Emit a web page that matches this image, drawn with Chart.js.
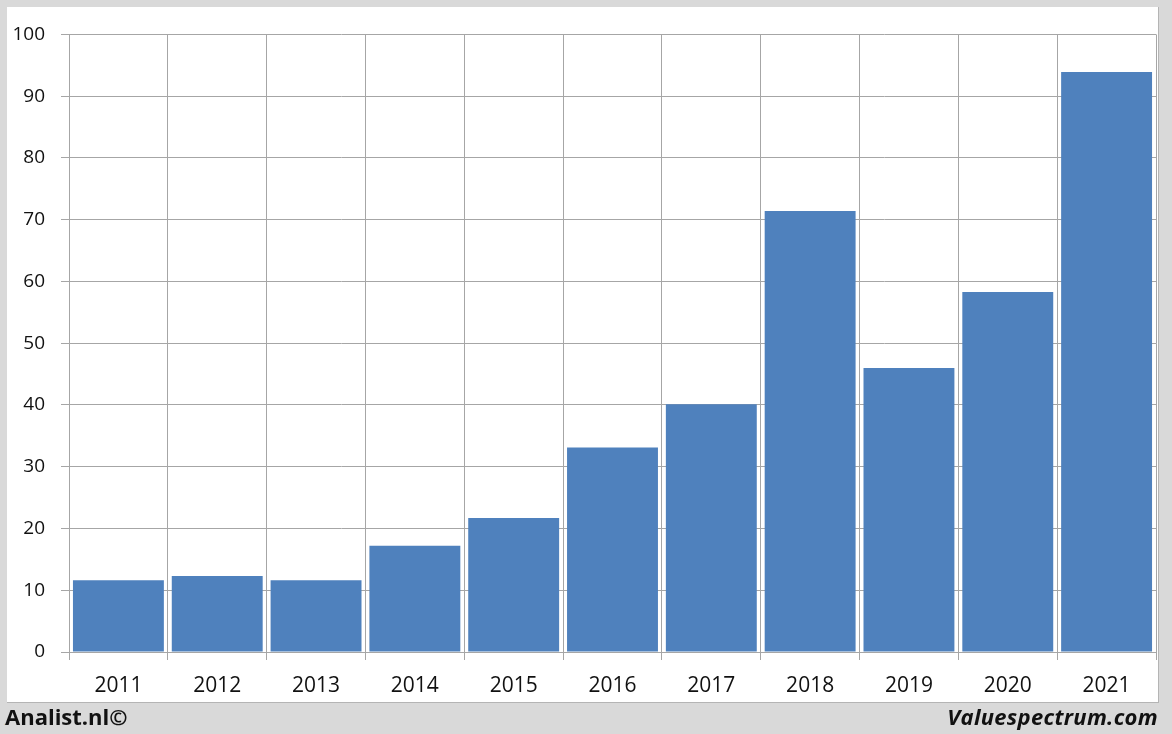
<!DOCTYPE html>
<html>
<head>
<meta charset="utf-8">
<script src="https://cdn.jsdelivr.net/npm/chart.js@4"></script>
<style>
    html, body { margin: 0; padding: 0; }
    body { width: 1172px; height: 734px; background: #d9d9d9; position: relative; overflow: hidden; font-family: "Open Sans", sans-serif; }
    .panel { position: absolute; left: 7px; top: 7px; width: 1151px; height: 695px; background: #fff; border-right: 1px solid #b4b4b4; border-bottom: 1px solid #b4b4b4; }
    .footer-left { position: absolute; left: 5px; top: 701px; font-size: 22px; line-height: 30px; font-weight: bold; color: #111; }
    .footer-right { position: absolute; right: 14px; top: 701px; font-size: 22px; line-height: 30px; font-weight: bold; font-style: italic; color: #111; letter-spacing: 0.3px; }
</style>
</head>
<body>
<div class="panel">
    <canvas id="barChart" width="1151" height="695"></canvas>
</div>
<div class="footer-left">Analist.nl©</div>
<div class="footer-right">Valuespectrum.com</div>

<script>
// chart data
const years = ['2011', '2012', '2013', '2014', '2015', '2016', '2017', '2018', '2019', '2020', '2021'];
const values = [11.6, 12.3, 11.6, 17.2, 21.7, 33.1, 40.1, 71.4, 46.0, 58.3, 93.9];
const yTicks = [0, 10, 20, 30, 40, 50, 60, 70, 80, 90, 100];

const gridColor = '#a6a6a6';

document.addEventListener('DOMContentLoaded', () => {
    const ctx = document.getElementById('barChart').getContext('2d');
    new Chart(ctx, {
        type: 'bar',
        data: {
            labels: years,
            datasets: [{
                data: values,
                backgroundColor: '#4f81bd',
                borderWidth: 0,
                barPercentage: 0.92,
                categoryPercentage: 1.0
            }]
        },
        options: {
            responsive: false,
            animation: false,
            layout: { padding: { top: 27, right: 2, left: 0, bottom: 0 } },
            plugins: { legend: { display: false }, tooltip: { enabled: false } },
            scales: {
                x: {
                    grid: { color: gridColor, lineWidth: 1, tickLength: 8, offset: true },
                    border: { color: gridColor },
                    ticks: { color: '#111', font: { family: 'Open Sans', size: 21 }, padding: 13, maxRotation: 0 },
                    afterFit: (scale) => { scale.height = 50; }
                },
                y: {
                    min: 0,
                    max: 100,
                    afterBuildTicks: (scale) => { scale.ticks = yTicks.map(v => ({ value: v })); },
                    grid: { color: gridColor, lineWidth: 1, tickLength: 8 },
                    border: { color: gridColor },
                    ticks: { color: '#111', font: { family: 'Open Sans', size: 19 }, padding: 16 },
                    afterFit: (scale) => { scale.width = 62; }
                }
            }
        }
    });
});
</script>
</body>
</html>
